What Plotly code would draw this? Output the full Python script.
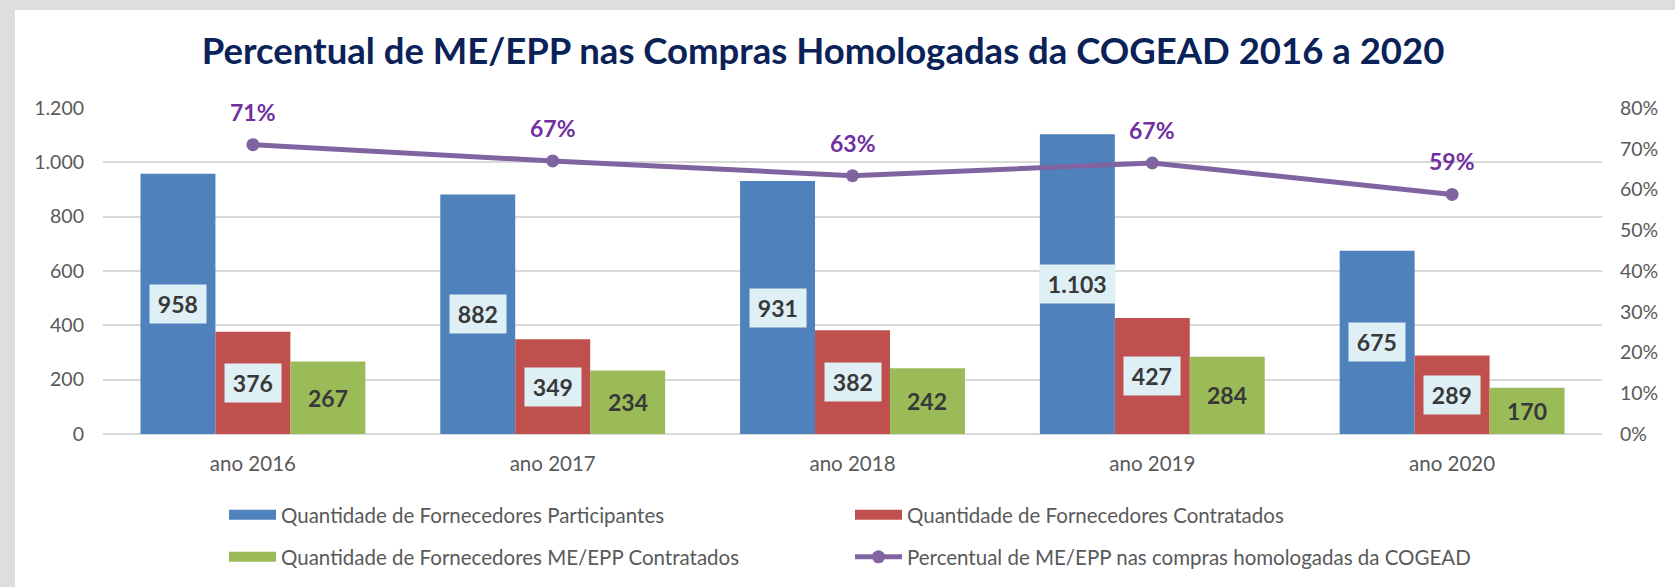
import math
import plotly.graph_objects as go

# ---------------- data ----------------
categories = ["ano 2016", "ano 2017", "ano 2018", "ano 2019", "ano 2020"]
participantes = [958, 882, 931, 1103, 675]
contratados = [376, 349, 382, 427, 289]
me_epp_contratados = [267, 234, 242, 284, 170]
percentual = [0.710, 0.670, 0.634, 0.665, 0.588]

series_names = [
    "Quantidade de Fornecedores Participantes",
    "Quantidade de Fornecedores Contratados",
    "Quantidade de Fornecedores ME/EPP Contratados",
    "Percentual de ME/EPP nas compras homologadas da COGEAD",
]
left_ticks = [0, 200, 400, 600, 800, 1000, 1200]
right_ticks = [0, 0.1, 0.2, 0.3, 0.4, 0.5, 0.6, 0.7, 0.8]

# ---------------- style ----------------
BLUE, RED, GREEN = "#4F81BD", "#C0504D", "#9BBB59"
LINE_PURPLE, LABEL_PURPLE = "#8064A2", "#7030A0"
TITLE_COLOR = "#0A2258"
TICK_COLOR = "#595959"
GRID_COLOR = "#D9D9D9"
BOX_COLOR = "#DEEFF5"
LABEL_COLOR = "#383838"
FONT = "Lato"

W, H = 1675, 587
ML, MR, MT, MB = 103, 73, 108, 153
PW, PH = W - ML - MR, H - MT - MB
BARGAP = 0.25
THIN = "\u2009"


def fmt_thousands(v):
    return f"{v:,}".replace(",", ".")


fig = go.Figure()

bar_series = [participantes, contratados, me_epp_contratados]
bar_colors = [BLUE, RED, GREEN]
for vals, col, name in zip(bar_series, bar_colors, series_names[:3]):
    fig.add_trace(go.Bar(x=categories, y=vals, marker=dict(color=col, line=dict(width=0)),
                         name=name, showlegend=False, hoverinfo="x+y"))

# legend swatches (wide flat rectangles like the reference)
for col, name, lg in zip(bar_colors, series_names[:3], ["legend", "legend", "legend2"]):
    fig.add_trace(go.Scatter(x=[None], y=[None], mode="lines", line=dict(color=col, width=11),
                             name=name, legend=lg, hoverinfo="skip"))

fig.add_trace(go.Scatter(x=categories, y=percentual, yaxis="y2", mode="lines+markers",
                         line=dict(color=LINE_PURPLE, width=5),
                         marker=dict(color=LINE_PURPLE, size=13),
                         name=series_names[3], legend="legend2"))

# value labels in the middle of each bar
bw = (1 - BARGAP) / 3
annotations = []
for k, (vals, boxed) in enumerate(zip(bar_series, [True, True, False])):
    off = (k - 1) * bw
    for i, v in enumerate(vals):
        txt = fmt_thousands(v)
        if boxed:
            txt = THIN + txt + THIN
        annotations.append(dict(
            x=i + off, y=v / 2, xref="x", yref="y", text=txt, showarrow=False,
            font=dict(family=FONT, size=23, color=LABEL_COLOR, weight="bold"),
            bgcolor=BOX_COLOR if boxed else "rgba(0,0,0,0)", borderpad=5,
        ))
for i, p in enumerate(percentual):
    annotations.append(dict(
        x=i, y=p, xref="x", yref="y2", text=f"{math.floor(p * 100 + 0.5)}%", showarrow=False,
        yshift=33,
        font=dict(family=FONT, size=23, color=LABEL_PURPLE, weight="bold"),
    ))

# light grey frame on top / left edges
shapes = [
    dict(type="rect", xref="paper", yref="paper", x0=-ML / PW, x1=(15 - ML) / PW,
         y0=-MB / PH, y1=(H - MB) / PH, fillcolor="#DEDEDE", line=dict(width=0), layer="below"),
    dict(type="rect", xref="paper", yref="paper", x0=-ML / PW, x1=(W - ML) / PW,
         y0=(H - 10 - MB) / PH, y1=(H - MB) / PH, fillcolor="#DEDEDE", line=dict(width=0), layer="below"),
]

legend_common = dict(orientation="h", entrywidth=564, entrywidthmode="pixels", itemwidth=47,
                     font=dict(family=FONT, size=20.5, color=TICK_COLOR), bgcolor="rgba(0,0,0,0)",
                     x=(224 - ML) / PW, xanchor="left", yanchor="middle", itemclick=False,
                     tracegroupgap=0)

fig.update_layout(
    width=W, height=H,
    margin=dict(l=ML, r=MR, t=MT, b=MB, autoexpand=False),
    paper_bgcolor="white", plot_bgcolor="white",
    separators=",.",
    barmode="group", bargap=BARGAP, bargroupgap=0,
    title=dict(text="Percentual de ME/EPP nas Compras Homologadas da COGEAD 2016 a 2020",
               x=823 / W, xref="container", xanchor="center",
               y=1 - 51 / H, yref="container", yanchor="middle",
               font=dict(family=FONT, size=36.5, color=TITLE_COLOR, weight="bold")),
    xaxis=dict(type="category", showgrid=False, showline=False, ticks="",
               tickfont=dict(family=FONT, size=20.5, color=TICK_COLOR), ticklabelstandoff=15),
    yaxis=dict(range=[0, 1200], tickvals=left_ticks, tickformat=",d", showgrid=True,
               gridcolor=GRID_COLOR, gridwidth=1.5, zeroline=True, zerolinecolor=GRID_COLOR,
               zerolinewidth=1.5, showline=False, ticks="",
               tickfont=dict(family=FONT, size=19.5, color=TICK_COLOR), ticklabelstandoff=18),
    yaxis2=dict(range=[0, 0.8], tickvals=right_ticks, tickformat=".0%", overlaying="y",
                side="right", showgrid=False, zeroline=False, showline=False, ticks="",
                tickfont=dict(family=FONT, size=19.5, color=TICK_COLOR), ticklabelstandoff=17),
    legend=dict(**legend_common, y=(H - 515 - MB) / PH),
    legend2=dict(**legend_common, y=(H - 557 - MB) / PH),
    annotations=annotations,
    shapes=shapes,
    hovermode="closest",
)

fig.write_html("out.html")
